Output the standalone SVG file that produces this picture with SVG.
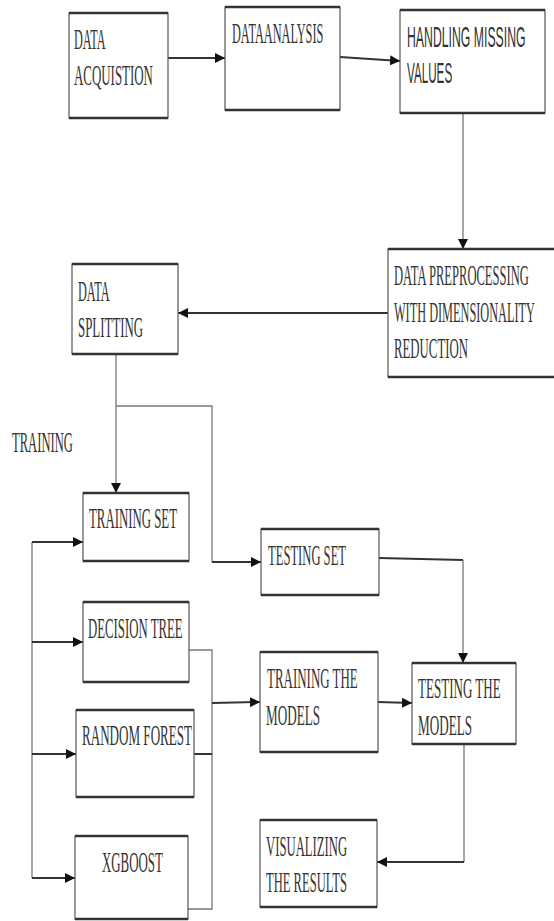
<svg xmlns="http://www.w3.org/2000/svg" width="554" height="921" viewBox="0 0 554 921">
<style>
.box{fill:#fff;stroke:#555;stroke-width:1.2}
.edge{fill:none;stroke:#333;stroke-width:2.6}
.t{font-family:"Liberation Serif","Times New Roman",serif;font-size:30px;fill:#333}
.s{font-family:"Liberation Sans",Arial,sans-serif;font-size:30px;fill:#333}
.h{fill:none;stroke:#333;stroke-width:2}
.v{fill:none;stroke:#777;stroke-width:1.3}
</style>
<defs>
<marker id="ar" markerUnits="userSpaceOnUse" markerWidth="10" markerHeight="10" viewBox="0 0 10 10" refX="10" refY="5" orient="auto">
<path d="M0,0 L10,5 L0,10 Z" fill="#111"/>
</marker>
</defs>
<rect width="554" height="921" fill="#fff"/>

<g id="connectors">
<path class="h" d="M168,58 L225,58" marker-end="url(#ar)"/>
<path class="h" d="M340,57 L400,61" marker-end="url(#ar)"/>
<path class="v" d="M463,113 L463,249" marker-end="url(#ar)"/>
<path class="h" d="M388,313 L178,313" marker-end="url(#ar)"/>
<path class="v" d="M116,354 L116,493" marker-end="url(#ar)"/>
<path class="v" d="M116,406 L212,406 L212,562"/>
<path class="h" d="M212,562 L261,562" marker-end="url(#ar)"/>
<path class="h" d="M379,558 L463,560"/>
<path class="v" d="M463,560 L463,663" marker-end="url(#ar)"/>
<path class="v" d="M32,542 L32,878"/>
<path class="h" d="M32,542 L83,542" marker-end="url(#ar)"/>
<path class="h" d="M32,642 L83,642" marker-end="url(#ar)"/>
<path class="h" d="M32,754 L76,754" marker-end="url(#ar)"/>
<path class="h" d="M32,878 L75,878" marker-end="url(#ar)"/>
<path class="v" d="M189,650 L212,650 L212,909 L188,909"/>
<path class="h" d="M194,754 L212,754"/>
<path class="h" d="M212,703 L260,702" marker-end="url(#ar)"/>
<path class="h" d="M378,702 L412,703" marker-end="url(#ar)"/>
<path class="v" d="M464,744 L464,862"/>
<path class="h" d="M464,862 L377,862" marker-end="url(#ar)"/>
</g>

<g id="data-acquisition">
<rect class="box" x="69" y="13" width="99" height="105"/>
<path class="edge" d="M69,13 H168 M69,118 H168"/>
<text class="t" transform="translate(74,49) scale(0.408,1)">DATA</text>
<text class="t" transform="translate(74,85) scale(0.431,1)">ACQUISTION</text>
</g>

<g id="data-analysis">
<rect class="box" x="225" y="7" width="115" height="103"/>
<path class="edge" d="M225,7 H340 M225,110 H340"/>
<text class="t" transform="translate(232,43) scale(0.41,1)">DATAANALYSIS</text>
</g>

<g id="handling-missing">
<rect class="box" x="400" y="10" width="145" height="103"/>
<path class="edge" d="M400,10 H545 M400,113 H545"/>
<text class="s" transform="translate(407,47) scale(0.409,1)">HANDLING MISSING</text>
<text class="s" transform="translate(407,83) scale(0.389,1)">VALUES</text>
</g>

<g id="data-preprocessing">
<rect class="box" x="388" y="249" width="175" height="128"/>
<path class="edge" d="M388,249 H563 M388,377 H563"/>
<text class="t" transform="translate(394,285) scale(0.419,1)">DATA PREPROCESSING</text>
<text class="t" transform="translate(394,322) scale(0.41,1)">WITH DIMENSIONALITY</text>
<text class="t" transform="translate(394,358) scale(0.427,1)">REDUCTION</text>
</g>

<g id="data-splitting">
<rect class="box" x="72" y="264" width="106" height="90"/>
<path class="edge" d="M72,264 H178 M72,354 H178"/>
<text class="t" transform="translate(78,301) scale(0.408,1)">DATA</text>
<text class="t" transform="translate(78,337) scale(0.43,1)">SPLITTING</text>
</g>

<g id="training-label">
<text class="t" transform="translate(12,452) scale(0.42,1)">TRAINING</text>
</g>

<g id="training-set">
<rect class="box" x="83" y="493" width="106" height="68"/>
<path class="edge" d="M83,493 H189 M83,561 H189"/>
<text class="t" transform="translate(89,528) scale(0.428,1)">TRAINING SET</text>
</g>

<g id="testing-set">
<rect class="box" x="261" y="529" width="118" height="66"/>
<path class="edge" d="M261,529 H379 M261,595 H379"/>
<text class="t" transform="translate(268,565) scale(0.42,1)">TESTING SET</text>
</g>

<g id="decision-tree">
<rect class="box" x="83" y="602" width="106" height="80"/>
<path class="edge" d="M83,602 H189 M83,682 H189"/>
<text class="t" transform="translate(88,638) scale(0.427,1)">DECISION TREE</text>
</g>

<g id="random-forest">
<rect class="box" x="76" y="710" width="118" height="87"/>
<path class="edge" d="M76,710 H194 M76,797 H194"/>
<text class="t" transform="translate(82,745) scale(0.436,1)">RANDOM FOREST</text>
</g>

<g id="xgboost">
<rect class="box" x="75" y="836" width="113" height="83"/>
<path class="edge" d="M75,836 H188 M75,919 H188"/>
<text class="t" transform="translate(102,872) scale(0.43,1)">XGBOOST</text>
</g>

<g id="training-models">
<rect class="box" x="260" y="652" width="118" height="100"/>
<path class="edge" d="M260,652 H378 M260,752 H378"/>
<text class="t" transform="translate(267,688) scale(0.432,1)">TRAINING THE</text>
<text class="t" transform="translate(266,725) scale(0.438,1)">MODELS</text>
</g>

<g id="testing-models">
<rect class="box" x="412" y="663" width="104" height="81"/>
<path class="edge" d="M412,663 H516 M412,744 H516"/>
<text class="t" transform="translate(418,698) scale(0.435,1)">TESTING THE</text>
<text class="t" transform="translate(418,735) scale(0.438,1)">MODELS</text>
</g>

<g id="visualizing">
<rect class="box" x="260" y="820" width="117" height="87"/>
<path class="edge" d="M260,820 H377 M260,907 H377"/>
<text class="t" transform="translate(266,856) scale(0.424,1)">VISUALIZING</text>
<text class="t" transform="translate(266,892) scale(0.419,1)">THE RESULTS</text>
</g>
</svg>
